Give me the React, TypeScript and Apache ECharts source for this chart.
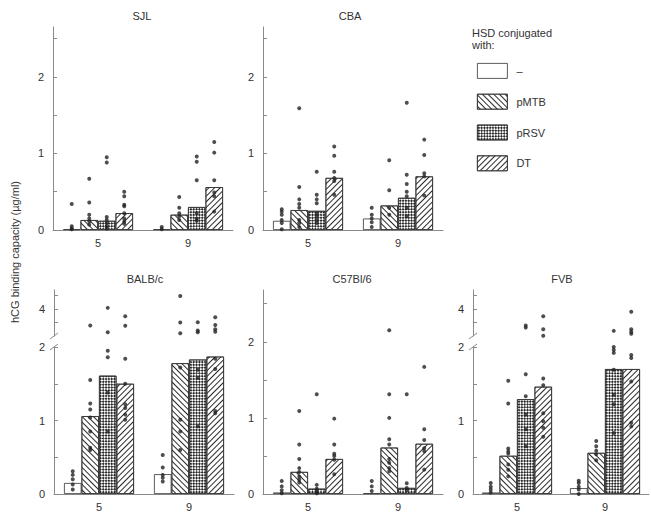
import React, { useEffect, useRef } from "react";
import * as echarts from "echarts";

const categories = ["5", "9"];
const groups = ["–", "pMTB", "pRSV", "DT"];

// tick definitions
const ticksFull = [0, 0.5, 1, 1.5, 2, 2.5];
const labelsFull = [0, 1, 2];
const ticksLow = [0, 0.5, 1, 1.5, 2];
const labelsLow = [0, 1, 2];
const ticksHigh = [3.5, 4, 4.5];
const labelsHigh = [4];

// means per group: [week 5, week 9]
const sjlMeans = [[0.01, 0.01], [0.13, 0.2], [0.12, 0.3], [0.22, 0.56]];
const sjlDots = [
  [[0.34, 0.05, 0.02, 0.01], [0.04, 0.01]],
  [[0.67, 0.36, 0.2, 0.15, 0.11, 0.07], [0.43, 0.29, 0.22, 0.18, 0.13]],
  [[0.95, 0.88, 0.17, 0.13, 0.09, 0.05, 0.02], [0.96, 0.89, 0.65, 0.22, 0.15, 0.12]],
  [[0.5, 0.44, 0.33, 0.31, 0.22, 0.15, 0.11, 0.08], [1.15, 1.01, 0.65, 0.49, 0.44, 0.24]],
];

const cbaMeans = [[0.12, 0.15], [0.26, 0.32], [0.25, 0.42], [0.68, 0.7]];
const cbaDots = [
  [[0.27, 0.24, 0.2, 0.13, 0.09, 0.01], [0.29, 0.2, 0.15, 0.1, 0.04]],
  [[1.59, 0.56, 0.4, 0.34, 0.29, 0.13, 0.09, 0.04], [0.91, 0.52, 0.29, 0.2]],
  [[0.76, 0.46, 0.4, 0.35, 0.22, 0.18, 0.13, 0.09], [1.66, 0.72, 0.6, 0.5, 0.44, 0.29, 0.18]],
  [[1.09, 0.97, 0.76, 0.68, 0.64, 0.46], [1.18, 0.98, 0.74, 0.7, 0.45]],
];

const balbMeans = [[0.15, 0.27], [1.06, 1.78], [1.61, 1.83], [1.5, 1.87]];
const balbDots = [
  [[0.31, 0.26, 0.2, 0.13, 0.06], [0.53, 0.36, 0.26, 0.22, 0.17]],
  [[3.39, 1.55, 1.23, 1.15, 1.04, 0.85, 0.63, 0.6], [4.48, 3.5, 3.1, 1.72, 1.01, 0.85, 0.6]],
  [[4.04, 3.14, 1.95, 1.86, 1.38, 0.85], [3.51, 3.2, 3.14, 1.69, 1.58, 0.92]],
  [[3.73, 3.38, 1.84, 1.5, 1.22, 1.17, 1.08, 1.01], [3.69, 3.41, 3.25, 3.16, 1.84, 1.7, 1.13, 1.1]],
];

const c57Means = [[0.02, 0.01], [0.29, 0.61], [0.07, 0.08], [0.46, 0.66]];
const c57Dots = [
  [[0.17, 0.1, 0.05, 0.01], [0.17, 0.1, 0.04]],
  [[1.09, 0.65, 0.46, 0.34, 0.29, 0.23, 0.19, 0.15], [2.15, 1.31, 1.0, 0.72, 0.65, 0.46, 0.41, 0.34, 0.3]],
  [[1.31, 0.12, 0.07, 0.04, 0.01], [1.31, 0.14, 0.08, 0.05]],
  [[0.99, 0.65, 0.53, 0.5, 0.45, 0.26], [1.67, 0.85, 0.71, 0.6, 0.56, 0.32]],
];

const fvbMeans = [[0.02, 0.08], [0.52, 0.56], [1.29, 1.7], [1.46, 1.7]];
const fvbDots = [
  [[0.15, 0.1, 0.06, 0.02], [0.18, 0.15, 0.1, 0.06, 0.0]],
  [[1.54, 1.23, 0.62, 0.58, 0.55, 0.4, 0.33, 0.24], [0.72, 0.65, 0.59, 0.54, 0.46]],
  [[3.39, 3.31, 1.63, 1.33, 1.08, 0.88, 0.65], [3.19, 2.0, 1.96, 1.92, 1.69, 1.35, 1.22, 0.83]],
  [[3.73, 3.25, 3.01, 1.57, 1.48, 1.1, 0.99, 0.9, 0.78], [3.9, 3.25, 3.16, 3.08, 1.89, 1.85, 1.53, 0.97, 0.92]],
];

const BAR_W = 17.5;
const AXIS_COLOR = "#8a8a8a";
const TEXT_COLOR = "#333";
const FONT = "Liberation Sans, Arial, sans-serif";

const decals: any[] = [
  null,
  {
    symbol: "rect",
    symbolSize: 1,
    color: "#2a2a2a",
    backgroundColor: "#fff",
    dashArrayX: [1, 0],
    dashArrayY: [1, 2.4],
    rotation: Math.PI / 4,
  },
  {
    symbol: "rect",
    symbolSize: 1,
    color: "#2a2a2a",
    backgroundColor: "#fff",
    dashArrayX: [[1.5, 1.5], [0, 1.5, 1.5, 0]],
    dashArrayY: [1.5, 0],
    rotation: Math.PI / 4,
  },
  {
    symbol: "rect",
    symbolSize: 1,
    color: "#2a2a2a",
    backgroundColor: "#fff",
    dashArrayX: [1, 0],
    dashArrayY: [1, 2.6],
    rotation: -Math.PI / 4,
  },
];

type Panel = {
  title: string;
  means: number[][];
  dots: number[][][];
  left: number;
  width: number;
  top: number;
  height: number;
  max: number;
  broken: boolean;
  titleX: number;
  titleY: number;
};

const panels: Panel[] = [
  { title: "SJL", means: sjlMeans, dots: sjlDots, left: 53, width: 180, top: 27, height: 203, max: 2.65, broken: false, titleX: 137, titleY: 12 },
  { title: "CBA", means: cbaMeans, dots: cbaDots, left: 263, width: 180, top: 27, height: 203, max: 2.65, broken: false, titleX: 345, titleY: 12 },
  { title: "BALB/c", means: balbMeans, dots: balbDots, left: 54, width: 180, top: 290, height: 204, max: 2, broken: true, titleX: 140, titleY: 275 },
  { title: "C57Bl/6", means: c57Means, dots: c57Dots, left: 263, width: 180, top: 290, height: 204, max: 2.68, broken: false, titleX: 347, titleY: 275 },
  { title: "FVB", means: fvbMeans, dots: fvbDots, left: 473, width: 176, top: 290, height: 204, max: 2, broken: true, titleX: 557, titleY: 275 },
];

const LOW_TOP = 347;
const UPPER_H = 46;
const UPPER_MIN = 3;
const UPPER_MAX = 4.7;

function buildOption() {
  const grid: any[] = [];
  const xAxis: any[] = [];
  const yAxis: any[] = [];
  const series: any[] = [];
  const title: any[] = [];
  const graphic: any[] = [];

  const yAxisBase = (gi: number, min: number, max: number, ticks: number[], labels: number[]) => ({
    type: "value",
    gridIndex: gi,
    min,
    max,
    axisLine: { show: true, lineStyle: { color: AXIS_COLOR, width: 1 } },
    axisTick: { show: true, inside: true, length: 4, customValues: ticks, lineStyle: { color: AXIS_COLOR } },
    axisLabel: { customValues: labels, fontSize: 11, color: TEXT_COLOR, margin: 9, fontFamily: FONT },
    splitLine: { show: false },
  });

  panels.forEach((p) => {
    title.push({
      text: p.title,
      left: p.titleX,
      top: p.titleY - 7,
      textAlign: "center",
      textStyle: { fontSize: 11, fontWeight: "normal", color: TEXT_COLOR, fontFamily: FONT },
    });

    const lowGi = grid.length;
    const bottom = p.top + p.height;
    if (p.broken) {
      grid.push({ left: p.left, width: p.width, top: LOW_TOP, height: bottom - LOW_TOP });
      yAxis.push(yAxisBase(lowGi, 0, p.max, ticksLow, labelsLow));
    } else {
      grid.push({ left: p.left, width: p.width, top: p.top, height: p.height });
      yAxis.push(yAxisBase(lowGi, 0, p.max, ticksFull, labelsFull));
    }
    xAxis.push({
      type: "category",
      gridIndex: lowGi,
      data: categories,
      axisLine: { show: true, lineStyle: { color: AXIS_COLOR, width: 1 } },
      axisTick: { show: false },
      axisLabel: { fontSize: 11, color: TEXT_COLOR, margin: 7, fontFamily: FONT },
    });

    let highGi = -1;
    if (p.broken) {
      highGi = grid.length;
      grid.push({ left: p.left, width: p.width, top: p.top, height: UPPER_H });
      yAxis.push(yAxisBase(highGi, UPPER_MIN, UPPER_MAX, ticksHigh, labelsHigh));
      xAxis.push({ type: "category", gridIndex: highGi, data: categories, show: false });
      const upperBottom = p.top + UPPER_H;
      [upperBottom, LOW_TOP].forEach((y) => {
        graphic.push({
          type: "line",
          shape: { x1: p.left - 4, y1: y + 3, x2: p.left + 4, y2: y - 3 },
          style: { stroke: AXIS_COLOR, lineWidth: 1 },
        });
      });
    }

    groups.forEach((g, k) => {
      series.push({
        type: "bar",
        name: g,
        xAxisIndex: lowGi,
        yAxisIndex: lowGi,
        data: p.means[k],
        barWidth: BAR_W,
        barGap: "0%",
        itemStyle: {
          color: "#fff",
          borderColor: "#333",
          borderWidth: 0.8,
          decal: decals[k] || undefined,
        },
        z: 2,
      });
    });

    groups.forEach((g, k) => {
      const offset = (k - 1.5) * BAR_W;
      const low: any[] = [];
      const high: any[] = [];
      p.dots[k].forEach((vals, ci) => {
        vals.forEach((v) => {
          if (p.broken && v > 2.5) high.push([ci, v]);
          else low.push([ci, v]);
        });
      });
      const dotStyle = {
        type: "scatter",
        symbol: "circle",
        symbolSize: 4,
        symbolOffset: [offset, 0],
        itemStyle: { color: "#222" },
        z: 5,
        silent: true,
      };
      series.push({ ...dotStyle, name: "dots-" + p.title + "-" + k, xAxisIndex: lowGi, yAxisIndex: lowGi, data: low });
      if (highGi >= 0) {
        series.push({ ...dotStyle, name: "dotsH-" + p.title + "-" + k, xAxisIndex: highGi, yAxisIndex: highGi, data: high });
      }
    });
  });

  graphic.push({
    type: "text",
    x: 15,
    y: 252,
    rotation: Math.PI / 2,
    style: {
      text: "hCG binding capacity (µg/ml)",
      fontSize: 11,
      fill: TEXT_COLOR,
      fontFamily: FONT,
      textAlign: "center",
      textVerticalAlign: "middle",
    },
  });
  graphic.push({
    type: "text",
    x: 472,
    y: 27,
    style: {
      text: "HSD conjugated\nwith:",
      fontSize: 11,
      lineHeight: 12,
      fill: TEXT_COLOR,
      fontFamily: FONT,
    },
  });

  return {
    animation: false,
    backgroundColor: "#fff",
    title,
    grid,
    xAxis,
    yAxis,
    series,
    graphic,
    legend: {
      data: groups,
      orient: "vertical",
      left: 472,
      top: 58,
      itemWidth: 30,
      itemHeight: 15,
      itemGap: 15,
      icon: "rect",
      itemStyle: { borderWidth: 0.8, borderColor: "#333" },
      textStyle: { fontSize: 11, color: TEXT_COLOR, fontFamily: FONT, padding: [0, 0, 0, 4] },
      selectedMode: false,
    },
  };
}

export default function App() {
  const ref = useRef<HTMLDivElement>(null);
  useEffect(() => {
    if (!ref.current) return;
    const chart = echarts.init(ref.current, null, { renderer: "svg" });
    chart.setOption(buildOption() as any);
    return () => chart.dispose();
  }, []);
  return <div ref={ref} style={{ width: 651, height: 518, position: "absolute", left: 0, top: 0 }} />;
}
